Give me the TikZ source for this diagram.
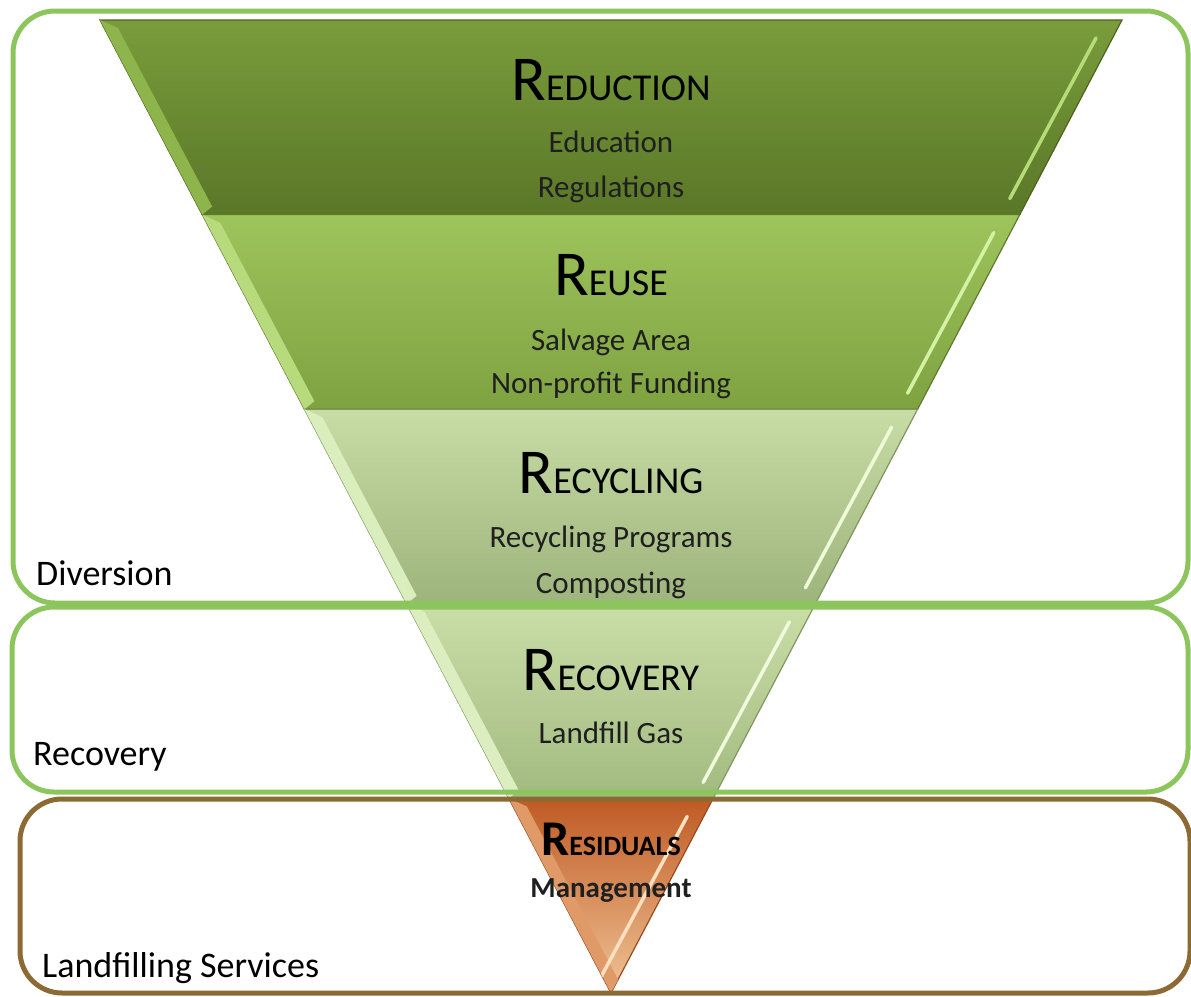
\documentclass[tikz,border=0pt]{standalone}
\usepackage{fontspec}
\setmainfont{Carlito}
\usepackage{tikz}
\usetikzlibrary{calc, positioning}

\definecolor{boxgreen}{HTML}{8DC55D}
\definecolor{boxbrown}{HTML}{8C6A34}
% layer colours: top, bottom, edge, bevel, highlight
\definecolor{redTop}{HTML}{7A9C3B}
\definecolor{redBot}{HTML}{5A7728}
\definecolor{redEdge}{HTML}{4A6420}
\definecolor{redBev}{HTML}{8EB44C}
\definecolor{redHl}{HTML}{B6DC7A}
\definecolor{reuTop}{HTML}{9EC45C}
\definecolor{reuBot}{HTML}{7FA241}
\definecolor{reuEdge}{HTML}{5E7C2E}
\definecolor{reuBev}{HTML}{B6DA7C}
\definecolor{reuHl}{HTML}{D4F2A4}
\definecolor{recTop}{HTML}{C8DCA5}
\definecolor{recBot}{HTML}{9DB47C}
\definecolor{recEdge}{HTML}{7E9660}
\definecolor{recBev}{HTML}{DAEDBC}
\definecolor{recHl}{HTML}{EEFAD8}
\definecolor{rcvTop}{HTML}{CADEA8}
\definecolor{rcvBot}{HTML}{A2BA80}
\definecolor{rcvEdge}{HTML}{809862}
\definecolor{rcvBev}{HTML}{DCEEC0}
\definecolor{rcvHl}{HTML}{F0FADC}
\definecolor{resTop}{HTML}{BF5A24}
\definecolor{resBot}{HTML}{F0C496}
\definecolor{resEdge}{HTML}{9A4A20}
\definecolor{resBev}{HTML}{E09A68}
\definecolor{resHl}{HTML}{FAE0C0}

\newcommand{\capsword}[2]{{\fontsize{64}{64}\selectfont #1}{\fontsize{38}{38}\selectfont #2}}

\begin{document}
\begin{tikzpicture}
  [x=1pt, y=-1pt,
    zonebox/.style={
        rounded corners=42,
        line width=5,
      },
    zonelabel/.style={font=\fontsize{36}{40}\selectfont, inner sep=0, anchor=base west},
    layertitle/.style={inner sep=0, anchor=base, text=black},
    layeritem/.style={font=\fontsize{31}{31}\selectfont, inner sep=0, anchor=base, text=black!88},
  ]
  \useasboundingbox (0,0) rectangle (1191,996);

  \coordinate (tl) at (100,20);
  \coordinate (tr) at (1122,20);
  \coordinate (apex) at (611,993);

  % the five layers of the funnel
  \foreach \a/\b/\ctop/\cbot/\cedge/\cbev/\chl in {
      0/0.2/redTop/redBot/redEdge/redBev/redHl,
      0.2/0.4/reuTop/reuBot/reuEdge/reuBev/reuHl,
      0.4/0.6/recTop/recBot/recEdge/recBev/recHl,
      0.6/0.8/rcvTop/rcvBot/rcvEdge/rcvBev/rcvHl,
      0.8/1/resTop/resBot/resEdge/resBev/resHl}{
    \coordinate (l1) at ($(tl)!\a!(apex)$);
    \coordinate (r1) at ($(tr)!\a!(apex)$);
    \coordinate (l2) at ($(tl)!\b!(apex)$);
    \coordinate (r2) at ($(tr)!\b!(apex)$);
    \shadedraw[top color=\ctop, bottom color=\cbot, draw=\cedge, line width=1.2]
      (l1) -- (r1) -- (r2) -- (l2) -- cycle;
    \begin{scope}
      \clip (l1) -- (r1) -- (r2) -- (l2) -- cycle;
      \fill[\cbev] (l1) -- ($(l1)+(18,8)$) -- ($(l2)+(10,-8)$) -- (l2) -- cycle;
      \draw[\chl, line width=3.5, line cap=round] ($(r1)+(-26,18)$) -- ($(r2)+(-10,-16)$);
    \end{scope}
  }

  % zones
  \draw[zonebox, boxgreen] (13,11) rectangle (1188,603);
  \draw[zonebox, boxgreen] (12,607) rectangle (1188,792);
  \draw[zonebox, boxbrown] (20,799) rectangle (1190,993);

  \node[zonelabel] (diversion) at (36,585) {Diversion};
  \node[zonelabel] (recoveryzone) at (33,765) {Recovery};
  \node[zonelabel] (landfilling) at (42,977) {Landfilling Services};

  % layer texts
  \node[layertitle] (reduction) at (611,100) {\capsword{R}{EDUCTION}};
  \node[layeritem] (education) at (611,152) {Education};
  \node[layeritem] (regulations) at (611,197) {Regulations};

  \node[layertitle] (reuse) at (611,295) {\capsword{R}{EUSE}};
  \node[layeritem] (salvage) at (611,350) {Salvage Area};
  \node[layeritem] (nonprofit) at (611,393) {Non-profit Funding};

  \node[layertitle] (recycling) at (611,493) {\capsword{R}{ECYCLING}};
  \node[layeritem] (programs) at (611,547) {Recycling Programs};
  \node[layeritem] (composting) at (611,593) {Composting};

  \node[layertitle] (recovery) at (611,690) {\capsword{R}{ECOVERY}};
  \node[layeritem] (gas) at (611,743) {Landfill Gas};

  \node[layertitle, font=\bfseries] (residuals) at (611,855)
    {{\fontsize{50}{50}\selectfont R}{\fontsize{28}{28}\selectfont ESIDUALS}};
  \node[layeritem, font=\bfseries\fontsize{29}{29}\selectfont] (management) at (611,897) {Management};
\end{tikzpicture}
\end{document}
